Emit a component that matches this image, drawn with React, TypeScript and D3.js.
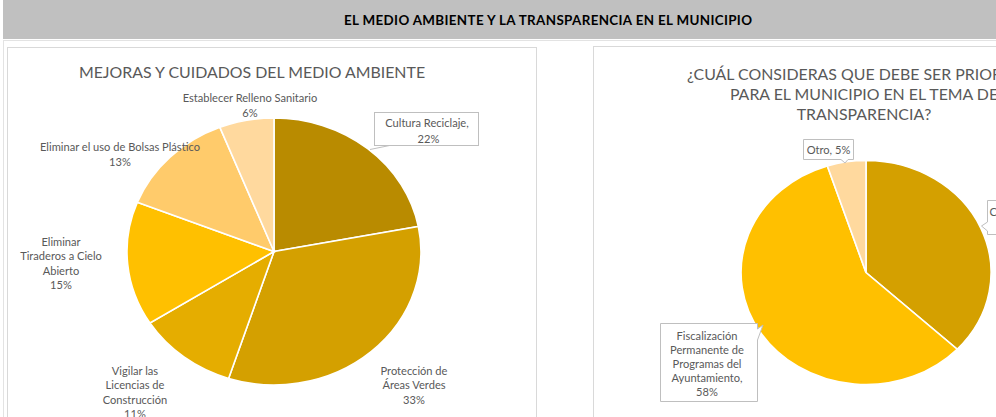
import React from "react";
import * as d3 from "d3";

const leftCategories = [
  "Cultura Reciclaje",
  "Protección de Áreas Verdes",
  "Vigilar las Licencias de Construcción",
  "Eliminar Tiraderos a Cielo Abierto",
  "Eliminar el uso de Bolsas Plástico",
  "Establecer Relleno Sanitario",
];
const leftValues = [22, 33, 11, 15, 13, 6];
const leftColors = ["#B98B00", "#D4A000", "#E5AD00", "#FFC000", "#FFCB6B", "#FFD99E"];

const rightCategories = [
  "Contraloría Social",
  "Fiscalización Permanente de Programas del Ayuntamiento",
  "Otro",
];
const rightValues = [37, 58, 5];
const rightColors = ["#D4A000", "#FFC000", "#FFD99E"];

const W = 996;
const H = 417;
const FONT = "Lato, 'Open Sans', sans-serif";
const GRAY = "#595959";
const BORDER = "#D9D9D9";
const LS = 11.1;

type Slice = d3.PieArcDatum<number>;

function Pie({ values, colors, cx, cy, rx, ry }: { values: number[]; colors: string[]; cx: number; cy: number; rx: number; ry: number }) {
  const pie = d3.pie<number>().sort(null).value((d) => d);
  const arcs: Slice[] = pie(values);
  const arc = d3.arc<Slice>().innerRadius(0).outerRadius(1);
  return (
    <g transform={`translate(${cx},${cy}) scale(${rx},${ry})`}>
      {arcs.map((a, i) => (
        <path
          key={i}
          d={arc(a) || ""}
          fill={colors[i]}
          stroke="#fff"
          strokeWidth={1.6}
          vectorEffect="non-scaling-stroke"
        />
      ))}
    </g>
  );
}

function Label({ lines, x, y, size = LS, lh = 14.5, color = GRAY, weight = 400, anchor = "middle" }: { lines: string[]; x: number; y: number; size?: number; lh?: number; color?: string; weight?: number; anchor?: string }) {
  return (
    <text x={x} y={y} textAnchor={anchor} fontFamily={FONT} fontSize={size} fill={color} fontWeight={weight}>
      {lines.map((l, i) => (
        <tspan key={i} x={x} y={y + i * lh} dominantBaseline="central">
          {l}
        </tspan>
      ))}
    </text>
  );
}

export default function App() {
  const pct = (v: number) => `${v}%`;
  return (
    <svg width={W} height={H} style={{ position: "absolute", left: 0, top: 0, background: "#fff" }}>
      {/* header bar */}
      <rect x={3} y={0} width={W - 3} height={39} fill="#C0C0C0" />
      <text x={548} y={20} textAnchor="middle" dominantBaseline="central" fontFamily={FONT} fontWeight={700} fontSize={13.4} fill="#000" textLength={408} lengthAdjust="spacing">
        EL MEDIO AMBIENTE Y LA TRANSPARENCIA EN EL MUNICIPIO
      </text>
      {/* page border lines */}
      <line x1={3} y1={40.5} x2={W} y2={40.5} stroke="#E3E3E3" />
      <line x1={3.5} y1={40} x2={3.5} y2={H} stroke="#E3E3E3" />
      {/* panels */}
      <rect x={7.5} y={47.5} width={529} height={H} fill="#fff" stroke={BORDER} />
      <rect x={593.5} y={46.5} width={420} height={H} fill="#fff" stroke={BORDER} />

      {/* LEFT CHART */}
      <text x={252} y={71} textAnchor="middle" dominantBaseline="central" fontFamily={FONT} fontSize={15.9} fill={GRAY}>
        MEJORAS Y CUIDADOS DEL MEDIO AMBIENTE
      </text>
      <Pie values={leftValues} colors={leftColors} cx={274} cy={251.5} rx={147} ry={133.5} />

      {/* Cultura callout */}
      <line x1={392} y1={145} x2={370} y2={149.5} stroke="#BFBFBF" />
      <rect x={374.5} y={112.5} width={104} height={33} fill="#fff" stroke="#BFBFBF" />
      <Label lines={[leftCategories[0] + ",", "  " + pct(leftValues[0])]} x={427} y={122.5} lh={15.5} />

      <Label lines={["Protección de", "Áreas Verdes", pct(leftValues[1])]} x={414} y={370} />
      <Label lines={["Vigilar las", "Licencias de", "Construcción", pct(leftValues[2])]} x={135} y={370} />
      <Label lines={["Eliminar", "Tiraderos a Cielo", "Abierto", pct(leftValues[3])]} x={61} y={241} />
      <Label lines={[leftCategories[4], pct(leftValues[4])]} x={120} y={146} lh={15} />
      <Label lines={[leftCategories[5], pct(leftValues[5])]} x={250} y={97} lh={15} />

      {/* RIGHT CHART */}
      <g fontFamily={FONT} fontSize={15.9} fill={GRAY} textAnchor="middle">
        <text x={864} y={73} dominantBaseline="central">¿CUÁL CONSIDERAS QUE DEBE SER PRIORIDAD</text>
        <text x={864} y={93} dominantBaseline="central">PARA EL MUNICIPIO EN EL TEMA DE</text>
        <text x={864} y={113} dominantBaseline="central">TRANSPARENCIA?</text>
      </g>
      <Pie values={rightValues} colors={rightColors} cx={866} cy={272.5} rx={125} ry={112} />

      {/* Otro callout */}
      <path d="M803.5,139.5 H853.5 V159.5 H848 L845,163 L841,159.5 H803.5 Z" fill="#fff" stroke="#BFBFBF" />
      <text x={828.5} y={149.5} textAnchor="middle" dominantBaseline="central" fontFamily={FONT} fontSize={LS} fill={GRAY}>
        {`${rightCategories[2]}, ${pct(rightValues[2])}`}
      </text>

      {/* right-most (cut) callout */}
      <path d="M987.5,200.5 H1100 V234.5 H987.5 V231 L981.5,226 L987.5,222 Z" fill="#fff" stroke="#BFBFBF" />
      <text x={989.5} y={211} dominantBaseline="central" fontFamily={FONT} fontSize={LS} fill={GRAY}>
        {rightCategories[0] + ","}
      </text>
      <text x={1030} y={226} textAnchor="middle" dominantBaseline="central" fontFamily={FONT} fontSize={LS} fill={GRAY}>
        {pct(rightValues[0])}
      </text>

      {/* Fiscalizacion callout */}
      <path d="M660.5,323.5 H757.5 V329 L763,325 L757.5,340 V401.5 H660.5 Z" fill="#fff" stroke="#BFBFBF" />
      <Label lines={["Fiscalización", "Permanente de", "Programas del", "Ayuntamiento,", pct(rightValues[1])]} x={707} y={335} lh={14} />
    </svg>
  );
}
